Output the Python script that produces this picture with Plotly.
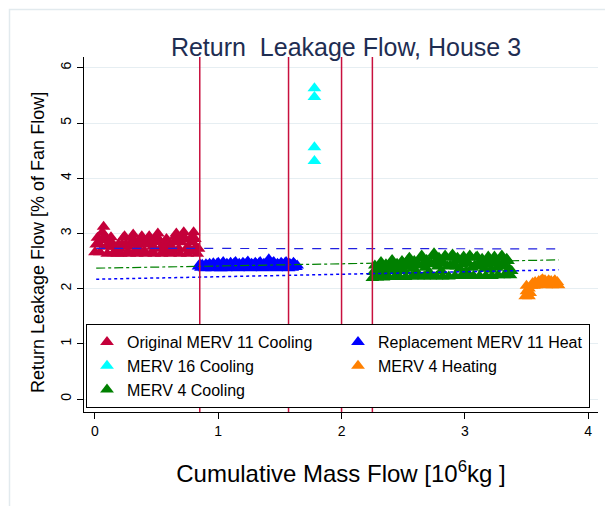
import plotly.graph_objects as go

# ---------------- data ----------------
orig_x = [0.00,0.01,0.02,0.03,0.04,0.05,0.06,0.07,0.08,0.09,
          0.10,0.11,0.12,0.13,0.14,0.15,0.16,0.17,0.18,0.19,
          0.20,0.21,0.22,0.23,0.24,0.25,0.26,0.27,0.28,0.29,
          0.30,0.31,0.32,0.33,0.34,0.35,0.36,0.37,0.38,0.39,
          0.40,0.41,0.42,0.43,0.44,0.45,0.46,0.47,0.48,0.49,
          0.50,0.51,0.52,0.53,0.54,0.55,0.56,0.57,0.58,0.59,
          0.60,0.61,0.62,0.63,0.64,0.65,0.66,0.67,0.68,0.69,
          0.70,0.71,0.72,0.73,0.74,0.75,0.76,0.77,0.78,0.79,
          0.80,0.81,0.82,0.83,0.84]
orig_y = [2.66,2.80,2.92,2.82,2.66,2.88,3.02,3.12,2.95,2.76,
          2.63,2.78,2.88,2.93,2.78,2.64,2.76,2.70,2.63,2.80,
          2.72,2.63,2.80,2.92,2.95,2.80,2.65,2.76,2.63,2.82,
          2.92,2.98,2.86,2.70,2.63,2.80,2.70,2.85,2.95,2.84,
          2.68,2.63,2.80,2.90,2.95,2.82,2.66,2.76,2.63,2.84,
          2.94,3.00,2.88,2.72,2.63,2.78,2.68,2.82,2.90,2.80,
          2.66,2.63,2.76,2.68,2.84,2.94,3.00,2.88,2.72,2.63,
          2.84,2.96,3.02,2.90,2.72,2.63,2.74,2.68,2.84,2.95,
          3.02,2.90,2.76,2.63,2.72]

repl_x = [0.84,0.85,0.86,0.87,0.88,0.89,0.90,0.91,0.92,0.93,
          0.94,0.95,0.96,0.97,0.98,0.99,1.00,1.01,1.02,1.03,
          1.04,1.05,1.06,1.07,1.08,1.09,1.10,1.11,1.12,1.13,
          1.14,1.15,1.16,1.17,1.18,1.19,1.20,1.21,1.22,1.23,
          1.24,1.25,1.26,1.27,1.28,1.29,1.30,1.31,1.32,1.33,
          1.34,1.35,1.36,1.37,1.38,1.39,1.40,1.41,1.42,1.43,
          1.44,1.45,1.46,1.47,1.48,1.49,1.50,1.51,1.52,1.53,
          1.54,1.55,1.56,1.57,1.58,1.59,1.60,1.61,1.62,1.63,1.64]
repl_y = [2.40,2.44,2.38,2.43,2.40,2.37,2.44,2.42,2.38,2.45,
          2.40,2.37,2.46,2.42,2.38,2.45,2.47,2.40,2.37,2.44,
          2.48,2.41,2.37,2.45,2.42,2.38,2.47,2.43,2.38,2.46,
          2.48,2.40,2.37,2.45,2.42,2.38,2.47,2.44,2.38,2.46,
          2.49,2.41,2.37,2.45,2.43,2.38,2.47,2.44,2.38,2.46,
          2.48,2.40,2.37,2.45,2.43,2.38,2.47,2.53,2.44,2.38,
          2.46,2.48,2.40,2.37,2.45,2.43,2.38,2.47,2.44,2.38,
          2.46,2.48,2.40,2.37,2.45,2.43,2.38,2.47,2.44,2.39,2.42]

m16_x = [1.78, 1.78, 1.78, 1.78]
m16_y = [5.63, 5.47, 4.56, 4.31]

m4h_x = [3.49,3.50,3.50,3.51,3.52,3.52,3.53,3.54,3.55,3.56,
         3.57,3.58,3.59,3.60,3.61,3.62,3.63,3.64,3.65,3.66,
         3.67,3.68,3.69,3.70,3.71,3.72,3.73,3.74,3.75,3.76]
m4h_y = [1.86,1.95,2.05,1.88,2.00,1.86,1.92,2.05,2.10,2.05,
         2.12,2.06,2.10,2.14,2.08,2.15,2.17,2.10,2.15,2.06,
         2.12,2.15,2.08,2.14,2.06,2.12,2.15,2.08,2.12,2.06]

m4c_x = [2.25,2.26,2.27,2.28,2.29,2.30,2.31,2.32,2.33,2.34,
         2.35,2.36,2.37,2.38,2.39,2.40,2.41,2.42,2.43,2.44,
         2.45,2.46,2.47,2.48,2.49,2.50,2.51,2.52,2.53,2.54,
         2.55,2.56,2.57,2.58,2.59,2.60,2.61,2.62,2.63,2.64,
         2.65,2.66,2.67,2.68,2.69,2.70,2.71,2.72,2.73,2.74,
         2.75,2.76,2.77,2.78,2.79,2.80,2.81,2.82,2.83,2.84,
         2.85,2.86,2.87,2.88,2.89,2.90,2.91,2.92,2.93,2.94,
         2.95,2.96,2.97,2.98,2.99,3.00,3.01,3.02,3.03,3.04,
         3.05,3.06,3.07,3.08,3.09,3.10,3.11,3.12,3.13,3.14,
         3.15,3.16,3.17,3.18,3.19,3.20,3.21,3.22,3.23,3.24,
         3.25,3.26,3.27,3.28,3.29,3.30,3.31,3.32,3.33,3.34,
         3.35,3.36,3.37,3.38]
m4c_y = [2.19,2.30,2.42,2.34,2.20,2.28,2.42,2.48,2.34,2.20,
         2.30,2.44,2.38,2.21,2.34,2.47,2.52,2.38,2.21,2.32,
         2.45,2.38,2.21,2.38,2.50,2.46,2.32,2.21,2.40,2.52,
         2.56,2.40,2.22,2.36,2.50,2.44,2.30,2.22,2.42,2.55,
         2.60,2.44,2.22,2.38,2.52,2.46,2.30,2.22,2.44,2.58,
         2.64,2.48,2.22,2.40,2.56,2.50,2.32,2.22,2.45,2.60,
         2.56,2.40,2.22,2.42,2.57,2.62,2.44,2.23,2.40,2.56,
         2.52,2.36,2.23,2.44,2.58,2.50,2.32,2.23,2.46,2.60,
         2.56,2.38,2.23,2.42,2.57,2.58,2.42,2.23,2.40,2.54,
         2.50,2.36,2.23,2.44,2.58,2.52,2.34,2.23,2.45,2.58,
         2.52,2.38,2.24,2.42,2.56,2.60,2.44,2.24,2.40,2.54,
         2.50,2.36,2.24,2.32]

# fitted trend lines (end points)
fit_x = [0.01, 3.76]
fit_dash_y = [2.73, 2.72]
fit_dashdot_y = [2.37, 2.52]
fit_dot_y = [2.17, 2.34]

# filter change markers
change_x = [0.85, 1.57, 2.0, 2.25]

x_ticks = [0, 1, 2, 3, 4]
y_ticks = [0, 1, 2, 3, 4, 5, 6]

# ---------------- figure ----------------
FONT = "Liberation Sans, Arial, sans-serif"
RED = "#C4003A"
BLUE = "#0000FF"
CYAN = "#00FFFF"
ORANGE = "#FF8000"
GREEN = "#008000"

fig = go.Figure()

def mk(x, y, name, color):
    return go.Scatter(x=x, y=y, mode="markers", name=name,
                      marker=dict(symbol="triangle-up", size=12, color=color,
                                  line=dict(width=0)))

fig.add_trace(mk(orig_x, orig_y, "Original MERV 11 Cooling", RED))
fig.add_trace(mk(repl_x, repl_y, "Replacement MERV 11 Heat", BLUE))
fig.add_trace(mk(m16_x, m16_y, "MERV 16 Cooling", CYAN))
fig.add_trace(mk(m4h_x, m4h_y, "MERV 4 Heating", ORANGE))
fig.add_trace(mk(m4c_x, m4c_y, "MERV 4 Cooling", GREEN))

fig.add_trace(go.Scatter(x=fit_x, y=fit_dash_y, mode="lines", showlegend=False,
                         line=dict(color="#2020E0", width=1.2, dash="dash")))
fig.add_trace(go.Scatter(x=fit_x, y=fit_dashdot_y, mode="lines", showlegend=False,
                         line=dict(color=GREEN, width=1.2, dash="dashdot")))
fig.add_trace(go.Scatter(x=fit_x, y=fit_dot_y, mode="lines", showlegend=False,
                         line=dict(color=BLUE, width=1.5, dash="dot")))

for cx in change_x:
    fig.add_shape(type="line", x0=cx, x1=cx, xref="x", y0=0, y1=1, yref="paper",
                  line=dict(color="#C8103E", width=1.5), layer="above")

# page body adds an 8px offset, so the figure is laid out 8px smaller
W, H = 605, 498
ml, mr, mt, mb = 76, 15, 49, 94
pw, ph = W - ml - mr, H - mt - mb
def px_x(p): return (p - ml) / pw
def px_y(p): return (H - mb - p) / ph

# outer light frame
fig.add_shape(type="rect", xref="paper", yref="paper",
              x0=px_x(1.5), x1=px_x(720), y0=px_y(1.5), y1=px_y(700),
              line=dict(color="#E2EAEE", width=1.5), fillcolor="rgba(0,0,0,0)",
              layer="below")

# y-axis title
fig.add_annotation(text="Return Leakage Flow [% of Fan Flow]", textangle=-90,
                   xref="paper", yref="paper", x=px_x(30), y=px_y(235),
                   xanchor="center", yanchor="middle", showarrow=False,
                   font=dict(size=18, color="black", family=FONT))

fig.update_layout(
    width=W, height=H,
    margin=dict(l=ml, r=mr, t=mt, b=mb),
    paper_bgcolor="white", plot_bgcolor="white",
    font=dict(family=FONT, color="black"),
    title=dict(text="Return\u00a0 Leakage Flow, House 3", x=338 / W, xanchor="center",
               y=1 - 39 / H, yanchor="middle",
               font=dict(size=25, color="#1E2D52", family=FONT)),
    xaxis=dict(range=[-0.089, 4.08], tickvals=x_ticks, ticks="outside", ticklen=6,
               tickcolor="black", showline=True, linecolor="black", linewidth=1,
               showgrid=False, zeroline=False, tickfont=dict(size=14),
               automargin=False,
               title=dict(text="Cumulative Mass Flow [10<sup>6</sup>kg ]",
                          font=dict(size=24), standoff=27)),
    yaxis=dict(range=[-0.2355, 6.196], tickvals=y_ticks, ticks="outside", ticklen=6,
               tickcolor="black", showline=True, linecolor="black", linewidth=1,
               showgrid=True, gridcolor="#E6EEF2", gridwidth=1, zeroline=False,
               tickangle=-90, tickfont=dict(size=14), automargin=False),
    legend=dict(orientation="h", x=px_x(78), y=px_y(316), xanchor="left", yanchor="top",
                bgcolor="white", bordercolor="black", borderwidth=1,
                font=dict(size=16), entrywidth=206, entrywidthmode="pixels",
                traceorder="normal", itemsizing="constant"),
    showlegend=True,
)

fig.write_html("out.html")
